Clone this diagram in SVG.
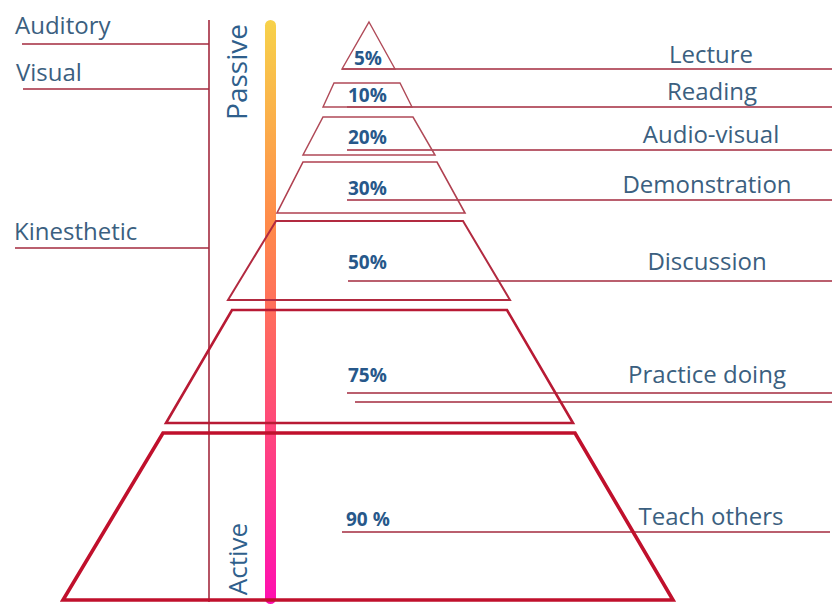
<svg xmlns="http://www.w3.org/2000/svg" width="832" height="604" viewBox="0 0 832 604">
<style>
.lbl{font-family:"Open Sans","Noto Sans","Liberation Sans",sans-serif;font-size:24px;fill:#3b5f80}
.pct{font-family:"Open Sans","Noto Sans","Liberation Sans",sans-serif;font-size:19px;font-weight:bold;fill:#27588a}
.side{font-family:"Open Sans","Noto Sans","Liberation Sans",sans-serif;font-size:28px;fill:#2f5f8c}
.ln{stroke:#a32a3e;stroke-width:1.6;fill:none}
.tier{fill:none;stroke-linejoin:miter}
</style>
<defs>
<linearGradient id="bar" x1="0" y1="0" x2="0" y2="1">
<stop offset="0" stop-color="#f7d24a"/>
<stop offset="0.35" stop-color="#ff8a4a"/>
<stop offset="0.6" stop-color="#ff5a6a"/>
<stop offset="1" stop-color="#ff0fb0"/>
</linearGradient>
</defs>
<rect width="832" height="604" fill="#ffffff"/>

<g id="connectors">
<line class="ln" x1="209" y1="20" x2="209" y2="602" stroke="#6a2535"/>
<line class="ln" x1="22" y1="44" x2="209" y2="44"/>
<line class="ln" x1="23" y1="89" x2="209" y2="89"/>
<line class="ln" x1="15" y1="248" x2="209" y2="248"/>
<line class="ln" x1="342" y1="69" x2="832" y2="69"/>
<line class="ln" x1="347" y1="107" x2="832" y2="107"/>
<line class="ln" x1="347" y1="150" x2="832" y2="150"/>
<line class="ln" x1="347" y1="200" x2="832" y2="200"/>
<line class="ln" x1="348" y1="281" x2="832" y2="281"/>
<line class="ln" x1="347" y1="393" x2="832" y2="393"/>
<line class="ln" x1="355" y1="402" x2="832" y2="402"/>
<line class="ln" x1="342" y1="532" x2="830" y2="532"/>
</g>

<g id="learning-styles">
<text class="lbl" x="15" y="34">Auditory</text>
<text class="lbl" x="16" y="81">Visual</text>
<text class="lbl" x="14" y="240">Kinesthetic</text>
</g>

<g id="scale">
<rect x="265" y="20" width="11" height="584" rx="5.5" fill="url(#bar)"/>
<text class="side" text-anchor="middle" transform="translate(247,72) rotate(-90)">Passive</text>
<text class="side" text-anchor="middle" transform="translate(247,559) rotate(-90)" style="font-size:26px">Active</text>
</g>

<g id="tier-lecture">
<polygon class="tier" points="369,22 395,69 342,69" stroke="#b04a58" stroke-width="1.4"/>
<text class="pct" x="354" y="65">5%</text>
<text class="lbl" x="711" y="63" text-anchor="middle">Lecture</text>
</g>
<g id="tier-reading">
<polygon class="tier" points="334,83 400,83 412,107 323,107" stroke="#b04a58" stroke-width="1.4"/>
<text class="pct" x="348" y="102">10%</text>
<text class="lbl" x="712" y="100" text-anchor="middle">Reading</text>
</g>
<g id="tier-audio-visual">
<polygon class="tier" points="323,117 413,117 435,155 303,155" stroke="#b04a58" stroke-width="1.5"/>
<text class="pct" x="348" y="144">20%</text>
<text class="lbl" x="711" y="143" text-anchor="middle">Audio-visual</text>
</g>
<g id="tier-demonstration">
<polygon class="tier" points="303,162 437,162 465,213 277,213" stroke="#b04050" stroke-width="1.6"/>
<text class="pct" x="348" y="195">30%</text>
<text class="lbl" x="707" y="193" text-anchor="middle">Demonstration</text>
</g>
<g id="tier-discussion">
<polygon class="tier" points="276,221 463,221 510,300 228,300" stroke="#b22a40" stroke-width="2"/>
<text class="pct" x="348" y="269">50%</text>
<text class="lbl" x="707" y="270" text-anchor="middle">Discussion</text>
</g>
<g id="tier-practice">
<polygon class="tier" points="232,310 507,310 573,423 166,423" stroke="#b81a34" stroke-width="2.6"/>
<text class="pct" x="348" y="382">75%</text>
<text class="lbl" x="707" y="383" text-anchor="middle">Practice doing</text>
</g>
<g id="tier-teach">
<polygon class="tier" points="163,433 575,433 673,600 63,600" stroke="#c0102c" stroke-width="3.6"/>
<text class="pct" x="346" y="526">90 %</text>
<text class="lbl" x="711" y="525" text-anchor="middle">Teach others</text>
</g>
</svg>
